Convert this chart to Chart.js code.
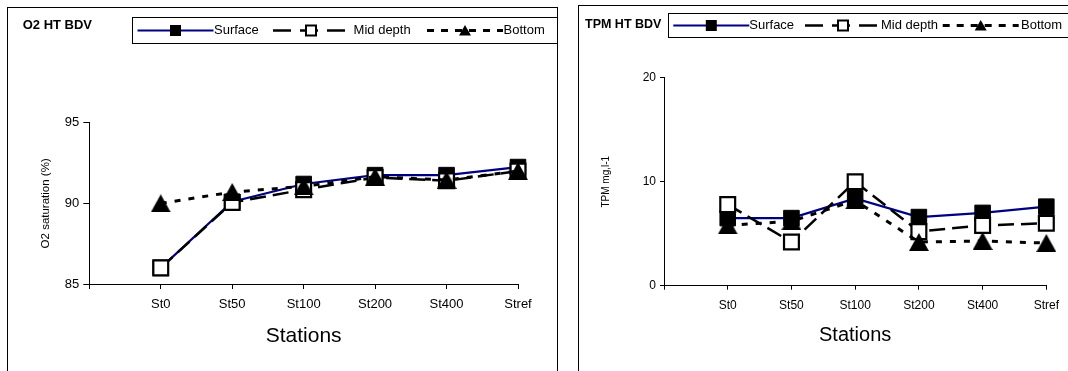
<!DOCTYPE html>
<html><head><meta charset="utf-8">
<script src="https://cdn.jsdelivr.net/npm/chart.js@4/dist/chart.umd.min.js"></script>
<style>
html,body{margin:0;padding:0;background:#fff;}
#wrap{position:relative;width:1068px;height:371px;overflow:hidden;background:#fff;}
#c1{position:absolute;left:0;top:0;}
#c2{position:absolute;left:560px;top:0;}
</style></head><body>
<div id="wrap"><canvas id="c1" width="560" height="371"></canvas><canvas id="c2" width="508" height="371"></canvas></div>
<script>
// ---- data ----
const stations = ['St0', 'St50', 'St100', 'St200', 'St400', 'Stref'];
const seriesNames = ['Surface', 'Mid depth', 'Bottom'];

const o2Surface = [86.0, 90.1, 91.2, 91.75, 91.75, 92.25];
const o2Mid     = [86.0, 90.05, 90.85, 91.6, 91.4, 92.0];
const o2Bottom  = [90.0, 90.7, 91.05, 91.65, 91.45, 92.0];
const o2Ticks   = [85, 90, 95];

const tpmSurface = [6.5, 6.5, 8.4, 6.6, 7.0, 7.6];
const tpmMid     = [7.8, 4.2, 10.0, 5.2, 5.8, 6.0];
const tpmBottom  = [5.8, 6.2, 8.2, 4.2, 4.3, 4.1];
const tpmTicks   = [0, 10, 20];

// ---- styling ----
const FONT = "'Liberation Sans', Arial, sans-serif";
const NAVY = '#000080';

function makeTriangle(w, h) {
  const c = document.createElement('canvas');
  c.width = w; c.height = h;
  const g = c.getContext('2d');
  g.fillStyle = '#000';
  g.beginPath(); g.moveTo(w / 2, 0); g.lineTo(w, h); g.lineTo(0, h); g.closePath(); g.fill();
  return c;
}
const TRI = makeTriangle(20, 18);

function drawSample(ctx, kind, sx, cy, len) {
  ctx.save();
  const cx = sx + len / 2;
  if (kind === 0) {
    ctx.strokeStyle = NAVY; ctx.lineWidth = 2; ctx.setLineDash([]);
    ctx.beginPath(); ctx.moveTo(sx, cy); ctx.lineTo(sx + len, cy); ctx.stroke();
    ctx.fillStyle = '#000';
    ctx.fillRect(cx - 5.5, cy - 5.5, 11, 11);
  } else if (kind === 1) {
    ctx.strokeStyle = '#000'; ctx.lineWidth = 2.5; ctx.setLineDash([18, 9]);
    ctx.beginPath(); ctx.moveTo(sx, cy); ctx.lineTo(sx + len, cy); ctx.stroke();
    ctx.setLineDash([]);
    ctx.fillStyle = '#fff'; ctx.fillRect(cx - 5, cy - 5, 10, 10);
    ctx.lineWidth = 2; ctx.strokeRect(cx - 5, cy - 5, 10, 10);
  } else {
    ctx.strokeStyle = '#000'; ctx.lineWidth = 3; ctx.setLineDash([7, 7]);
    ctx.beginPath(); ctx.moveTo(sx, cy); ctx.lineTo(sx + len, cy); ctx.stroke();
    ctx.setLineDash([]);
    ctx.fillStyle = '#000';
    ctx.beginPath(); ctx.moveTo(cx, cy - 5.5); ctx.lineTo(cx + 6, cy + 5); ctx.lineTo(cx - 6, cy + 5); ctx.closePath(); ctx.fill();
  }
  ctx.restore();
}

function decorPlugin(d) {
  return {
    id: 'decor',
    afterDraw(chart) {
      const ctx = chart.ctx;
      ctx.save();
      ctx.strokeStyle = '#000'; ctx.lineWidth = 1; ctx.setLineDash([]);
      ctx.strokeRect(d.frame[0], d.frame[1], d.frame[2], d.frame[3]);
      ctx.fillStyle = '#fff';
      ctx.fillRect(d.box[0], d.box[1], d.box[2], d.box[3]);
      ctx.strokeRect(d.box[0], d.box[1], d.box[2], d.box[3]);
      ctx.fillStyle = '#000';
      ctx.textBaseline = 'middle'; ctx.textAlign = 'left';
      ctx.font = 'bold ' + d.titleSize + 'px ' + FONT;
      ctx.fillText(d.title, d.titlePos[0], d.titlePos[1]);
      ctx.font = d.legendSize + 'px ' + FONT;
      d.items.forEach((it, i) => {
        drawSample(ctx, i, it[0], d.cy, 76);
        ctx.fillStyle = '#000';
        ctx.fillText(seriesNames[i], it[1], d.cy);
      });
      ctx.restore();
    }
  };
}

function makeChart(canvas, c) {
  const labels = [''].concat(stations);
  const datasets = [
    { label: seriesNames[0], data: [null].concat(c.surface), borderColor: NAVY, borderWidth: 2.2,
      pointStyle: 'rect', pointRadius: 11, pointBackgroundColor: '#000', pointBorderColor: '#000',
      pointBorderWidth: 1, order: 2 },
    { label: seriesNames[1], data: [null].concat(c.mid), borderColor: '#000', borderWidth: 2.5,
      borderDash: [16, 7], pointStyle: 'rect', pointRadius: 10.5, pointBackgroundColor: '#fff',
      pointBorderColor: '#000', pointBorderWidth: 2.2, order: 1 },
    { label: seriesNames[2], data: [null].concat(c.bottom), borderColor: '#000', borderWidth: 3,
      borderDash: [6, 8], pointStyle: TRI, pointRadius: 10, order: 0 }
  ].map(ds => Object.assign({ tension: 0, clip: false, fill: false, spanGaps: false }, ds));

  return new Chart(canvas, {
    type: 'line',
    data: { labels, datasets },
    options: {
      responsive: false, animation: false, devicePixelRatio: 1, events: [],
      layout: { padding: c.padding },
      plugins: { legend: { display: false }, tooltip: { enabled: false }, title: { display: false } },
      scales: {
        x: {
          type: 'category', offset: false,
          grid: { drawOnChartArea: false, drawTicks: true, tickLength: c.xTick, color: '#000', tickColor: '#000', lineWidth: 1 },
          border: { display: true, color: '#000', width: 1 },
          ticks: { color: '#000', font: { family: FONT, size: c.tickSize }, padding: c.xPad, maxRotation: 0, autoSkip: false },
          title: { display: true, text: 'Stations', color: '#000', font: { family: FONT, size: c.xTitleSize },
                   padding: { top: 0, bottom: c.xTitlePad } },
          afterFit: s => { s.height = c.xHeight; }
        },
        y: {
          min: c.ticks[0], max: c.ticks[c.ticks.length - 1],
          grid: { drawOnChartArea: false, drawTicks: true, tickLength: c.yTick, color: '#000', tickColor: '#000', lineWidth: 1 },
          border: { display: true, color: '#000', width: 1 },
          ticks: { color: '#000', font: { family: FONT, size: c.yTickSize }, padding: 4, stepSize: c.ticks[1] - c.ticks[0] },
          title: { display: true, text: c.yTitle, color: '#000', font: { family: FONT, size: c.yTitleSize },
                   padding: { top: c.yTitlePad, bottom: 0 } },
          afterFit: s => { s.width = c.yWidth; }
        }
      }
    },
    plugins: [decorPlugin(c.decor)]
  });
}

makeChart(document.getElementById('c1'), {
  surface: o2Surface, mid: o2Mid, bottom: o2Bottom, ticks: o2Ticks,
  yTitle: 'O2 saturation (%)', yTitleSize: 11.5, yTitlePad: 38.8,
  padding: { left: 0, right: 42, top: 122.7, bottom: 0 },
  xHeight: 87, yWidth: 89.3, xTick: 5, yTick: 6, xPad: 7.2,
  tickSize: 13, yTickSize: 13, xTitleSize: 21, xTitlePad: 21.7,
  decor: {
    frame: [7.5, 7.5, 550, 420], box: [132.5, 17.5, 425, 26],
    title: 'O2 HT BDV', titleSize: 13, titlePos: [22.7, 25],
    legendSize: 13, cy: 30.5,
    items: [[137.5, 214], [273, 353.6], [427, 503.6]]
  }
});

makeChart(document.getElementById('c2'), {
  surface: tpmSurface, mid: tpmMid, bottom: tpmBottom, ticks: tpmTicks,
  yTitle: 'TPM mg,l-1', yTitleSize: 10, yTitlePad: 40.7,
  padding: { left: 0, right: 21, top: 77.7, bottom: 0 },
  xHeight: 85.3, yWidth: 104, xTick: 4, yTick: 4, xPad: 9,
  tickSize: 12, yTickSize: 12, xTitleSize: 20, xTitlePad: 24,
  decor: {
    frame: [18.5, 5.5, 600, 420], box: [108.5, 13.5, 500, 24],
    title: 'TPM HT BDV', titleSize: 12.5, titlePos: [25, 25],
    legendSize: 13, cy: 25.5,
    items: [[113.3, 189.3], [245, 321], [382.7, 461]]
  }
});
</script>
</body></html>
